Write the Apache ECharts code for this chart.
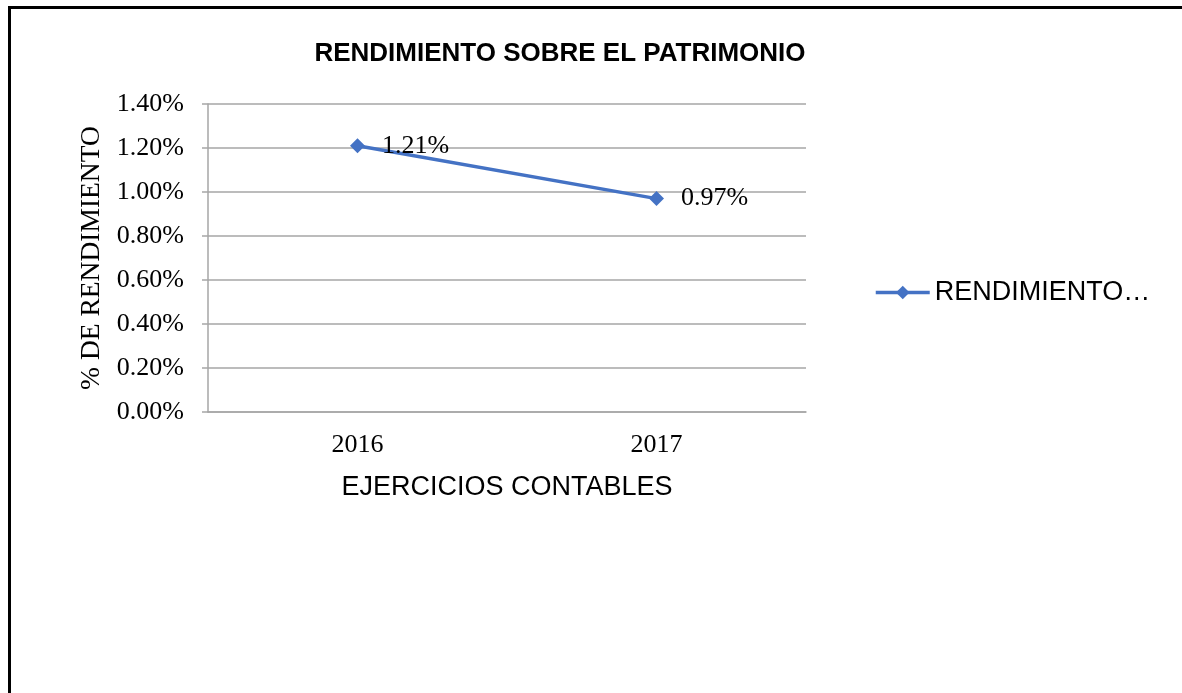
<!DOCTYPE html>
<html>
<head>
<meta charset="utf-8">
<script src="https://cdn.jsdelivr.net/npm/echarts@6/dist/echarts.min.js"></script>
<style>
  html, body { margin: 0; padding: 0; background: #fff; }
  #main { width: 1182px; height: 693px; }
</style>
</head>
<body>
<div id="main"></div>
<script>
var years = ['2016', '2017'];
var rendimiento = [1.21, 0.97];
var seriesName = 'RENDIMIENTO SOBRE EL PATRIMONIO';

var serif = '"Liberation Serif", "Times New Roman", serif';
var sans = '"Liberation Sans", Arial, sans-serif';

var myChart = echarts.init(document.getElementById('main'));
var option = {
    backgroundColor: '#fff',
    animation: false,
    title: {
        text: 'RENDIMIENTO SOBRE EL PATRIMONIO',
        left: 555,
        textAlign: 'center',
        top: 36,
        textStyle: { fontFamily: sans, fontSize: 26, fontWeight: 'bold', color: '#000' }
    },
    legend: {
        left: 869,
        top: 274,
        itemWidth: 54,
        itemHeight: 17,
        itemGap: 5,
        data: [seriesName],
        lineStyle: { width: 3.5, color: '#4472c4' },
        itemStyle: { color: '#4472c4' },
        formatter: function (name) {
            return 'RENDIMIENTO\u2026';
        },
        textStyle: { fontFamily: sans, fontSize: 27, color: '#000' }
    },
    grid: { left: 208, right: 376, top: 104, bottom: 281, containLabel: false },
    xAxis: {
        type: 'category',
        data: years,
        boundaryGap: true,
        name: 'EJERCICIOS CONTABLES',
        nameLocation: 'middle',
        nameGap: 62,
        nameTextStyle: { fontFamily: sans, fontSize: 27, color: '#000' },
        axisLine: { lineStyle: { color: '#a6a6a6', width: 1.5 } },
        axisTick: { show: false },
        axisLabel: { fontFamily: serif, fontSize: 26, color: '#000', margin: 20 }
    },
    yAxis: {
        type: 'value',
        min: 0,
        max: 1.4,
        interval: 0.2,
        name: '% DE RENDIMIENTO',
        nameLocation: 'middle',
        nameGap: 101,
        nameTextStyle: { fontFamily: serif, fontSize: 27.5, color: '#000' },
        axisLine: { show: true, lineStyle: { color: '#a6a6a6', width: 1.5 } },
        axisTick: { show: true, length: 6, lineStyle: { color: '#a6a6a6', width: 1.5 } },
        splitLine: { lineStyle: { color: '#a6a6a6', width: 1.5 } },
        axisLabel: {
            fontFamily: serif, fontSize: 26, color: '#000', margin: 24,
            formatter: function (v) { return v.toFixed(2) + '%'; }
        }
    },
    series: [{
        name: seriesName,
        type: 'line',
        data: rendimiento,
        symbol: 'diamond',
        symbolSize: 15,
        itemStyle: { color: '#4472c4' },
        lineStyle: { color: '#4472c4', width: 3.5 },
        label: {
            show: true,
            position: 'right',
            distance: 17,
            fontFamily: serif,
            fontSize: 26,
            color: '#000',
            formatter: function (p) { return p.value.toFixed(2) + '%'; }
        }
    }],
    graphic: [{
        type: 'polyline',
        shape: { points: [[9.5, 700], [9.5, 7.5], [1190, 7.5]] },
        style: { stroke: '#000', lineWidth: 3, fill: null }
    }]
};
myChart.setOption(option);
</script>
</body>
</html>
